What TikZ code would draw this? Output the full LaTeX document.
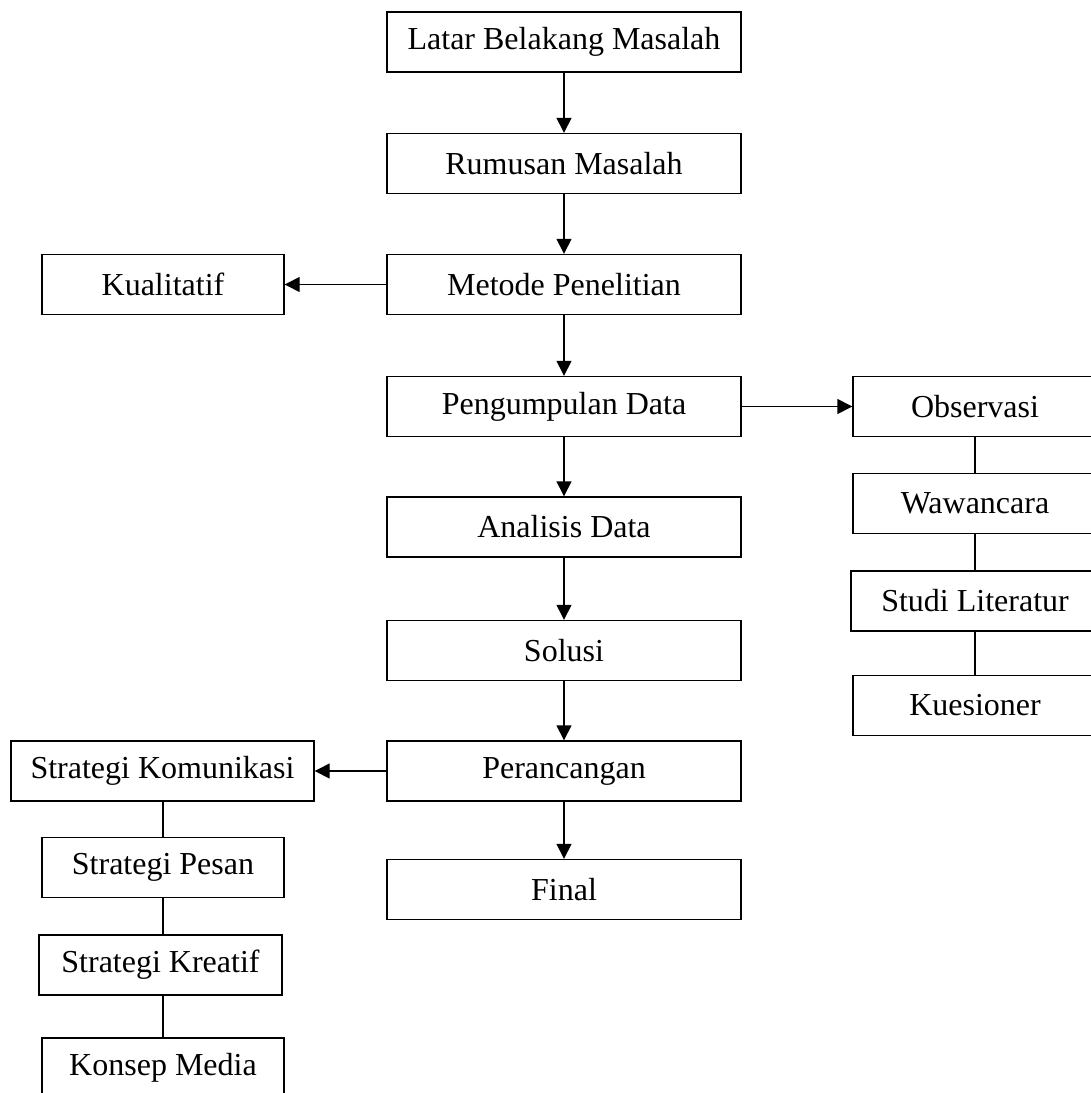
\documentclass[tikz,border=0pt]{standalone}
\usepackage{fontspec}
\setmainfont{Liberation Serif}
\usetikzlibrary{arrows.meta}

\tikzset{
  kotak/.style={draw, line width=0.7pt, minimum height=30pt, inner sep=0pt,
    font=\fontsize{16}{19}\selectfont},
  panah/.style={line width=0.7pt, -{Triangle[width=7.5pt,length=7.5pt]}},
  garis/.style={line width=0.7pt}
}

\begin{document}
\begin{tikzpicture}[x=0.5pt,y=-0.5pt]
  \pgfmathsetmacro{\midX}{564}
  \pgfmathsetmacro{\leftX}{163}
  \pgfmathsetmacro{\rightX}{975}
  \useasboundingbox (0,0) rectangle (1091,1093);

  % Alur utama
  \node[kotak, minimum width=177pt] (latar) at (\midX,42) {Latar Belakang Masalah};
  \node[kotak, minimum width=177pt] (rumusan) at (\midX,163.5) {Rumusan Masalah};
  \node[kotak, minimum width=177pt] (metode) at (\midX,284.5) {Metode Penelitian};
  \node[kotak, minimum width=177pt] (kumpul) at (\midX,406.5) {Pengumpulan Data};
  \node[kotak, minimum width=177pt] (analisis) at (\midX,527) {Analisis Data};
  \node[kotak, minimum width=177pt] (solusi) at (\midX,650.5) {Solusi};
  \node[kotak, minimum width=177pt] (rancang) at (\midX,771) {Perancangan};
  \node[kotak, minimum width=177pt] (final) at (\midX,889.5) {Final};

  \draw[panah] (latar) -- (rumusan);
  \draw[panah] (rumusan) -- (metode);
  \draw[panah] (metode) -- (kumpul);
  \draw[panah] (kumpul) -- (analisis);
  \draw[panah] (analisis) -- (solusi);
  \draw[panah] (solusi) -- (rancang);
  \draw[panah] (rancang) -- (final);

  % Metode
  \node[kotak, minimum width=121pt] (kualitatif) at (\leftX,284.5) {Kualitatif};
  \draw[panah] (metode) -- (kualitatif);

  % Teknik pengumpulan data
  \node[kotak, minimum width=122pt] (observasi) at (\rightX,406.5) {Observasi};
  \node[kotak, minimum width=122pt] (wawancara) at (\rightX,503.5) {Wawancara};
  \node[kotak, minimum width=124pt] (studi) at (\rightX,601) {Studi Literatur};
  \node[kotak, minimum width=122pt] (kuesioner) at (\rightX,705.5) {Kuesioner};

  \draw[panah] (kumpul) -- (observasi);
  \draw[garis] (observasi) -- (wawancara);
  \draw[garis] (wawancara) -- (studi);
  \draw[garis] (studi) -- (kuesioner);

  % Perancangan
  \node[kotak, minimum width=151.5pt] (strakom) at (162.5,771) {Strategi Komunikasi};
  \node[kotak, minimum width=121pt] (pesan) at (\leftX,867.5) {Strategi Pesan};
  \node[kotak, minimum width=121.5pt] (kreatif) at (160.5,965) {Strategi Kreatif};
  \node[kotak, minimum width=121pt] (konsep) at (\leftX,1068) {Konsep Media};

  \draw[panah] (rancang) -- (strakom);
  \draw[garis] (pesan.north) -- (pesan.north |- strakom.south);
  \draw[garis] (pesan.south) -- (pesan.south |- kreatif.north);
  \draw[garis] (konsep.north) -- (konsep.north |- kreatif.south);
\end{tikzpicture}
\end{document}
